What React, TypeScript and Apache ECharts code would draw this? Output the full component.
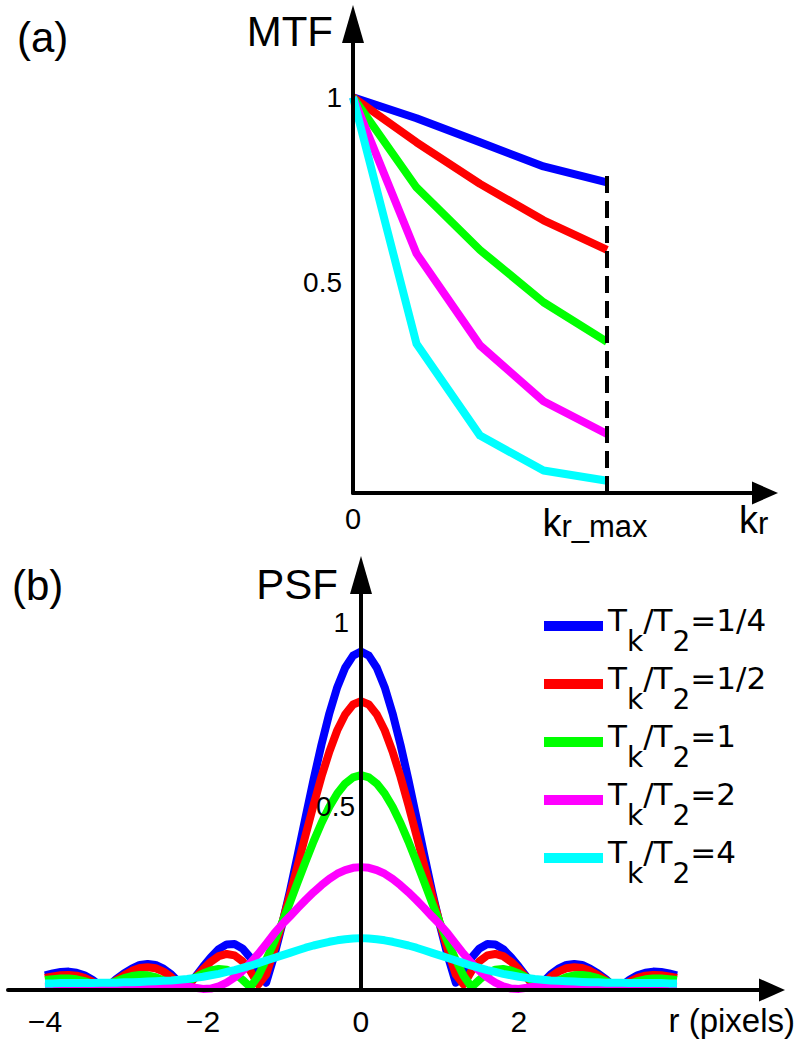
import React, { useEffect, useRef } from 'react';
import * as echarts from 'echarts';

// ---------- data ----------
const RATIO_LABELS = ['1/4', '1/2', '1', '2', '4'];
const SERIES_NAMES = RATIO_LABELS.map((r) => `Tk/T2=${r}`);
const COLORS = ['#0000ff', '#ff0000', '#00ff00', '#ff00ff', '#00ffff'];

// (a) MTF, k in units of k_r_max
const MTF_K = [0, 0.25, 0.5, 0.75, 1];
const MTF_BLUE = [1, 0.947, 0.886, 0.825, 0.785];
const MTF_RED = [1, 0.886, 0.781, 0.689, 0.614];
const MTF_GREEN = [1, 0.772, 0.614, 0.482, 0.382];
const MTF_MAGENTA = [1, 0.605, 0.373, 0.232, 0.149];
const MTF_CYAN = [1, 0.377, 0.145, 0.057, 0.031];
const KMAX_LINE_K = [1, 1];
const KMAX_LINE_V = [0, 0.81];

const MTF_X_TICKS = [0, 1];
const MTF_Y_TICKS = [0.5, 1];
const PSF_X_TICKS = [-4, -2, 0, 2];
const PSF_Y_TICKS = [0.5, 1];

// (b) PSF, r in pixels
const PSF_R = [
  -4, -3.9, -3.8, -3.7, -3.6, -3.5, -3.4, -3.3, -3.2, -3.1, -3, -2.9, -2.8, -2.7, -2.6, -2.5, -2.4, -2.3, -2.2, -2.1,
  -2, -1.9, -1.8, -1.7, -1.6, -1.5, -1.4, -1.3, -1.2, -1.1, -1, -0.9, -0.8, -0.7, -0.6, -0.5, -0.4, -0.3, -0.2, -0.1,
  0,
  0.1, 0.2, 0.3, 0.4, 0.5, 0.6, 0.7, 0.8, 0.9, 1, 1.1, 1.2, 1.3, 1.4, 1.5, 1.6, 1.7, 1.8, 1.9, 2,
  2.1, 2.2, 2.3, 2.4, 2.5, 2.6, 2.7, 2.8, 2.9, 3, 3.1, 3.2, 3.3, 3.4, 3.5, 3.6, 3.7, 3.8, 3.9, 4,
];
const PSF_BLUE = [
  0.040, 0.045, 0.049, 0.05, 0.047, 0.040, 0.028, 0.012, 0.01, 0.029, 0.045, 0.058, 0.068, 0.071, 0.068, 0.058, 0.042, 0.02, 0.008, 0.035,
  0.063, 0.089, 0.111, 0.124, 0.125, 0.113, 0.088, 0.047, 0.02, 0.092, 0.176, 0.268, 0.368, 0.471, 0.572, 0.667, 0.752, 0.823, 0.876, 0.909,
  0.92,
  0.909, 0.876, 0.823, 0.752, 0.667, 0.572, 0.471, 0.368, 0.268, 0.176, 0.092, 0.02, 0.047, 0.088, 0.113, 0.125, 0.124, 0.111, 0.089, 0.063,
  0.035, 0.008, 0.02, 0.042, 0.058, 0.068, 0.071, 0.068, 0.058, 0.045, 0.029, 0.01, 0.012, 0.028, 0.040, 0.047, 0.05, 0.049, 0.045, 0.040,
];
const PSF_RED = [
  0.033, 0.037, 0.040, 0.041, 0.039, 0.033, 0.023, 0.009, 0.011, 0.026, 0.04, 0.052, 0.06, 0.062, 0.059, 0.05, 0.035, 0.016, 0.01, 0.033,
  0.056, 0.077, 0.092, 0.098, 0.094, 0.078, 0.052, 0.015, 0.042, 0.108, 0.180, 0.258, 0.340, 0.422, 0.503, 0.580, 0.648, 0.706, 0.749, 0.776,
  0.785,
  0.776, 0.749, 0.706, 0.648, 0.580, 0.503, 0.422, 0.340, 0.258, 0.180, 0.108, 0.042, 0.015, 0.052, 0.078, 0.094, 0.098, 0.092, 0.077, 0.056,
  0.033, 0.01, 0.016, 0.035, 0.05, 0.059, 0.062, 0.06, 0.052, 0.04, 0.026, 0.011, 0.009, 0.023, 0.033, 0.039, 0.041, 0.040, 0.037, 0.033,
];
const PSF_GREEN = [
  0.027, 0.029, 0.031, 0.031, 0.029, 0.024, 0.017, 0.012, 0.016, 0.024, 0.032, 0.038, 0.041, 0.04, 0.035, 0.026, 0.015, 0.012, 0.022, 0.034,
  0.045, 0.053, 0.057, 0.055, 0.046, 0.028, 0.008, 0.038, 0.082, 0.130, 0.182, 0.237, 0.294, 0.350, 0.404, 0.454, 0.498, 0.534, 0.561, 0.578,
  0.584,
  0.578, 0.561, 0.534, 0.498, 0.454, 0.404, 0.350, 0.294, 0.237, 0.182, 0.130, 0.082, 0.038, 0.008, 0.028, 0.046, 0.055, 0.057, 0.053, 0.045,
  0.034, 0.022, 0.012, 0.015, 0.026, 0.035, 0.04, 0.041, 0.038, 0.032, 0.024, 0.016, 0.012, 0.017, 0.024, 0.029, 0.031, 0.031, 0.029, 0.027,
];
const PSF_MAGENTA = [
  0.009, 0.010, 0.010, 0.011, 0.011, 0.011, 0.010, 0.009, 0.008, 0.008, 0.009, 0.011, 0.013, 0.015, 0.016, 0.016, 0.015, 0.013, 0.01, 0.006,
  0.003, 0.004, 0.01, 0.02, 0.034, 0.052, 0.073, 0.098, 0.125, 0.153, 0.178, 0.200, 0.223, 0.245, 0.266, 0.285, 0.302, 0.316, 0.326, 0.332,
  0.334,
  0.332, 0.326, 0.316, 0.302, 0.285, 0.266, 0.245, 0.223, 0.200, 0.178, 0.153, 0.125, 0.098, 0.073, 0.052, 0.034, 0.02, 0.01, 0.004, 0.003,
  0.006, 0.01, 0.013, 0.015, 0.016, 0.016, 0.015, 0.013, 0.011, 0.009, 0.008, 0.008, 0.009, 0.010, 0.011, 0.011, 0.011, 0.010, 0.010, 0.009,
];
const PSF_CYAN = [
  0.018, 0.018, 0.019, 0.019, 0.019, 0.019, 0.019, 0.020, 0.020, 0.020, 0.021, 0.021, 0.022, 0.023, 0.024, 0.025, 0.026, 0.028, 0.030, 0.033,
  0.036, 0.040, 0.044, 0.049, 0.054, 0.060, 0.066, 0.073, 0.080, 0.087, 0.094, 0.101, 0.108, 0.115, 0.121, 0.126, 0.131, 0.135, 0.138, 0.140,
  0.141,
  0.140, 0.138, 0.135, 0.131, 0.126, 0.121, 0.115, 0.108, 0.101, 0.094, 0.087, 0.080, 0.073, 0.066, 0.060, 0.054, 0.049, 0.044, 0.040, 0.036,
  0.033, 0.030, 0.028, 0.026, 0.025, 0.024, 0.023, 0.022, 0.021, 0.021, 0.020, 0.020, 0.020, 0.019, 0.019, 0.019, 0.019, 0.019, 0.018, 0.018,
];

const MTF_SETS = [MTF_BLUE, MTF_RED, MTF_GREEN, MTF_MAGENTA, MTF_CYAN];
const PSF_SETS = [PSF_BLUE, PSF_RED, PSF_GREEN, PSF_MAGENTA, PSF_CYAN];

// ---------- styling ----------
const FONT = '"Liberation Sans", Arial, Helvetica, sans-serif';
const LEGEND_FONT = '"DejaVu Sans", "Liberation Sans", sans-serif';
const AXIS_LINE = { color: '#000', width: 4 };

function buildOption(): any {
  const mtfSeries = MTF_SETS.map((vals, i) => ({
    type: 'line',
    name: SERIES_NAMES[i],
    xAxisIndex: 0,
    yAxisIndex: 0,
    data: MTF_K.map((k, j) => [k, vals[j]]),
    symbol: 'none',
    color: COLORS[i],
    lineStyle: { color: COLORS[i], width: 8, cap: 'butt', join: 'round' },
    z: 2,
  }));

  const psfSeries = PSF_SETS.map((vals, i) => ({
    type: 'line',
    name: SERIES_NAMES[i],
    xAxisIndex: 1,
    yAxisIndex: 1,
    data: PSF_R.map((r, j) => [r, vals[j]]),
    symbol: 'none',
    color: COLORS[i],
    lineStyle: { color: COLORS[i], width: 8, cap: 'butt', join: 'round' },
    z: 2,
  }));

  const dashSeries = {
    type: 'line',
    name: 'kmax',
    xAxisIndex: 0,
    yAxisIndex: 0,
    data: KMAX_LINE_K.map((k, j) => [k, KMAX_LINE_V[j]]),
    symbol: 'none',
    lineStyle: { color: '#000', width: 4, type: [17, 8] },
    z: 3,
  };

  const labelBase = { color: '#000', fontFamily: FONT, fontSize: 28 };

  return {
    animation: false,
    backgroundColor: '#fff',
    grid: [
      { left: 353, top: 24, right: 35, bottom: 548, outerBoundsMode: 'none' },
      { left: 8, top: 575, right: 28, bottom: 51, outerBoundsMode: 'none' },
    ],
    xAxis: [
      {
        type: 'value',
        gridIndex: 0,
        min: 0,
        max: 1.622,
        z: 5,
        axisLine: { onZero: false, lineStyle: AXIS_LINE, symbol: ['none', 'triangle'], symbolSize: [23, 26] },
        axisTick: { show: false },
        splitLine: { show: false },
        axisLabel: {
          ...labelBase,
          fontSize: 29,
          customValues: MTF_X_TICKS,
          margin: 11,
          formatter: (v: number) => (v === 0 ? '0' : '{k|k}{r|r_max}'),
          rich: {
            k: { ...labelBase, fontSize: 38, verticalAlign: 'bottom' },
            r: { ...labelBase, fontSize: 31, verticalAlign: 'bottom', padding: [0, 24, 0, 0] },
          },
        },
      },
      {
        type: 'value',
        gridIndex: 1,
        min: -4.468,
        max: 5.203,
        z: 5,
        axisLine: { onZero: false, lineStyle: AXIS_LINE, symbol: ['none', 'triangle'], symbolSize: [23, 26] },
        axisTick: { show: false },
        splitLine: { show: false },
        axisLabel: {
          ...labelBase,
          fontSize: 30,
          customValues: PSF_X_TICKS,
          margin: 16,
          formatter: (v: number) => (v < 0 ? '\u2212' + Math.abs(v) : String(v)),
        },
      },
    ],
    yAxis: [
      {
        type: 'value',
        gridIndex: 0,
        min: 0,
        max: 1.185,
        z: 5,
        axisLine: { onZero: false, lineStyle: AXIS_LINE, symbol: ['none', 'triangle'], symbolSize: [22, 38] },
        axisTick: { show: false },
        splitLine: { show: false },
        axisLabel: {
          ...labelBase,
          customValues: MTF_Y_TICKS,
          margin: 11,
          formatter: (v: number) => (v === 1 ? '1' : '{h|0.5}'),
          rich: { h: { ...labelBase, padding: [0, 0, 26, 0] } },
        },
      },
      {
        type: 'value',
        gridIndex: 1,
        min: 0,
        max: 1.128,
        z: 5,
        position: 'left',
        offset: -353,
        axisLine: { onZero: false, lineStyle: AXIS_LINE, symbol: ['none', 'triangle'], symbolSize: [22, 38] },
        axisTick: { show: false },
        splitLine: { show: false },
        axisLabel: {
          ...labelBase,
          customValues: PSF_Y_TICKS,
          margin: 6,
          formatter: (v: number) => (v === 1 ? '{p|1}' : '0.5'),
          rich: { p: { ...labelBase, padding: [0, 6, 0, 0] } },
        },
      },
    ],
    legend: {
      data: SERIES_NAMES,
      orient: 'vertical',
      left: 544,
      top: 597,
      padding: 0,
      itemGap: 0,
      itemWidth: 59,
      itemHeight: 10,
      icon: 'rect',
      selectedMode: false,
      formatter: (name: string) => {
        const idx = SERIES_NAMES.indexOf(name);
        return `{t|T}{s|k}{t|/T}{s|2}{t|=${RATIO_LABELS[idx]}}`;
      },
      textStyle: {
        color: '#000',
        fontFamily: LEGEND_FONT,
        fontSize: 31,
        rich: {
          t: { color: '#000', fontFamily: LEGEND_FONT, fontSize: 31, lineHeight: 61, padding: [0, 0, 12, 0] },
          s: { color: '#000', fontFamily: LEGEND_FONT, fontSize: 28, lineHeight: 61, padding: [30, 0, 0, 0] },
        },
      },
    },
    graphic: [
      { type: 'text', x: 17, y: 37, style: { text: '(a)', fontSize: 42, fontFamily: FONT, fill: '#000', align: 'left', verticalAlign: 'middle' } },
      { type: 'text', x: 333, y: 31, style: { text: 'MTF', fontSize: 42, fontFamily: FONT, fill: '#000', align: 'right', verticalAlign: 'middle' } },
      { type: 'text', x: 12, y: 585, style: { text: '(b)', fontSize: 42, fontFamily: FONT, fill: '#000', align: 'left', verticalAlign: 'middle' } },
      { type: 'text', x: 338, y: 584, style: { text: 'PSF', fontSize: 42, fontFamily: FONT, fill: '#000', align: 'right', verticalAlign: 'middle' } },
      {
        type: 'text',
        x: 739,
        y: 520,
        style: {
          text: '{k|k}{r|r}',
          align: 'left',
          verticalAlign: 'middle',
          fill: '#000',
          rich: {
            k: { fontSize: 38, fontFamily: FONT, fill: '#000', color: '#000', verticalAlign: 'bottom' },
            r: { fontSize: 31, fontFamily: FONT, fill: '#000', color: '#000', verticalAlign: 'bottom' },
          },
        },
      },
      { type: 'text', x: 795, y: 1020, style: { text: 'r (pixels)', fontSize: 33, fontFamily: FONT, fill: '#000', align: 'right', verticalAlign: 'middle' } },
    ],
    series: [...psfSeries, ...mtfSeries, dashSeries],
  };
}

export default function App() {
  const ref = useRef<HTMLDivElement>(null);
  useEffect(() => {
    document.body.style.margin = '0';
    if (!ref.current) return;
    const chart = echarts.init(ref.current, null, { renderer: 'svg' });
    chart.setOption(buildOption());
    return () => {
      chart.dispose();
    };
  }, []);
  return <div ref={ref} style={{ position: 'absolute', left: 0, top: 0, width: 800, height: 1041 }} />;
}
